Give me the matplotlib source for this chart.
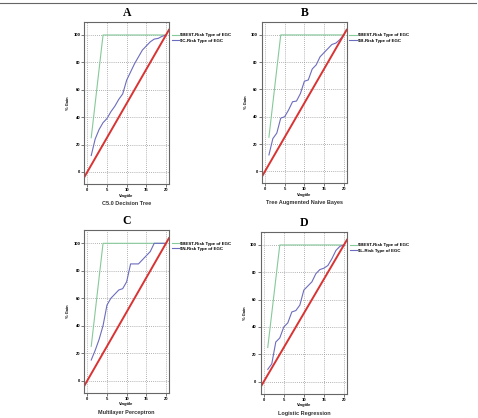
import matplotlib
matplotlib.use("Agg")
import matplotlib.pyplot as plt
from matplotlib.lines import Line2D

# vingtile positions and gains
vingtile = [1, 2, 3, 4, 5, 6, 7, 8, 9, 10, 11, 12, 13, 14, 15, 16, 17, 18, 19, 20]
c50_gain = [12, 24, 31, 36, 39, 44, 48, 53, 57, 67, 73, 79, 84, 89, 92, 95, 97, 97.5, 99, 100]
tan_gain = [12, 24, 28, 39, 40, 45, 51, 51.5, 57, 66, 67, 75, 78, 84, 87, 90, 93, 94, 96.5, 100]
mlp_gain = [15, 22, 30, 40, 55, 60, 63, 66, 67, 72, 85, 85, 85, 88, 91, 94, 100, 100, 100, 100]
lr_gain = [9, 13, 29, 32, 40, 43, 51, 52, 56, 67, 70, 73, 79, 82, 83, 85, 90, 96, 99, 100]

best_x = [1, 4, 20]
best_gain = [25, 100, 100]
baseline_x = [0, 20]
baseline_gain = [0, 100]

letters = ["A", "B", "C", "D"]
captions = ["C5.0 Decision Tree", "Tree Augmented Naive Bayes", "Multilayer Perceptron", "Logistic Regression"]
model_labels = ["\\$C-Risk Type of EGC", "\\$B-Risk Type of EGC", "\\$N-Risk Type of EGC", "\\$L-Risk Type of EGC"]
best_label = "\\$BEST-Risk Type of EGC"
gains = [c50_gain, tan_gain, mlp_gain, lr_gain]

W, H = 478, 418
# axes boxes in pixels: left, top, right, bottom
boxes = [(84.3, 21.7, 169, 184), (262, 21.7, 346.7, 183.3),
         (84.3, 230, 169, 392.7), (260.7, 231.7, 347, 393.7)]

plt.rcParams['font.family'] = ['Liberation Sans', 'DejaVu Sans']
fig = plt.figure(figsize=(W / 100, H / 100), dpi=100)
fig.add_artist(Line2D([0, 0.995], [1 - 2.5 / H, 1 - 2.5 / H], color='#666666', lw=0.8))

for i in range(4):
    l, t, r, b = boxes[i]
    ax = fig.add_axes([l / W, 1 - b / H, (r - l) / W, (b - t) / H])
    ax.set_xlim(-0.76, 20.76)
    ax.set_ylim(-8.8, 109.7)
    ax.set_xticks([0, 5, 10, 15, 20])
    ax.set_yticks([0, 20, 40, 60, 80, 100])
    ax.grid(True, color='#999999', linestyle=(0, (1, 1.5)), linewidth=0.6)
    ax.tick_params(labelsize=3, length=2, width=0.5, pad=1, color='#444444')
    for lab in ax.get_xticklabels() + ax.get_yticklabels():
        lab.set_fontweight('bold')
    for s in ax.spines.values():
        s.set_color('#666666')
        s.set_linewidth(0.8)
    ax.plot(best_x, best_gain, color='#86c99a', lw=0.8, label=best_label)
    ax.plot(vingtile, gains[i], color='#6c6cbe', lw=0.8, label=model_labels[i])
    ax.axline((baseline_x[0], baseline_gain[0]), (baseline_x[1], baseline_gain[1]),
              color='#d93333', lw=1.4)
    ax.set_xlabel("Vingtile", fontsize=2.9, fontweight='bold', labelpad=1)
    ax.set_ylabel("% Gain", fontsize=2.9, fontweight='bold', labelpad=2)
    ax.legend(loc='upper left', bbox_to_anchor=((r + 2.5) / W, 1 - (t + 11.5) / H),
              bbox_transform=fig.transFigure, frameon=False,
              handlelength=1.7, handletextpad=0.3, labelspacing=0.25,
              borderpad=0, borderaxespad=0, prop={'weight': 'bold', 'size': 3.2})
    cx = (l + r) / 2
    fig.text(cx / W, 1 - (t - 8.5) / H, letters[i], ha='center', va='center',
             fontsize=8.5, fontweight='bold', family='Liberation Serif')
    fig.text(cx / W, 1 - (b + 19.5) / H, captions[i], ha='center', va='center',
             fontsize=4, fontweight='bold', color='#333333')

fig.savefig("out.png", dpi=100)
